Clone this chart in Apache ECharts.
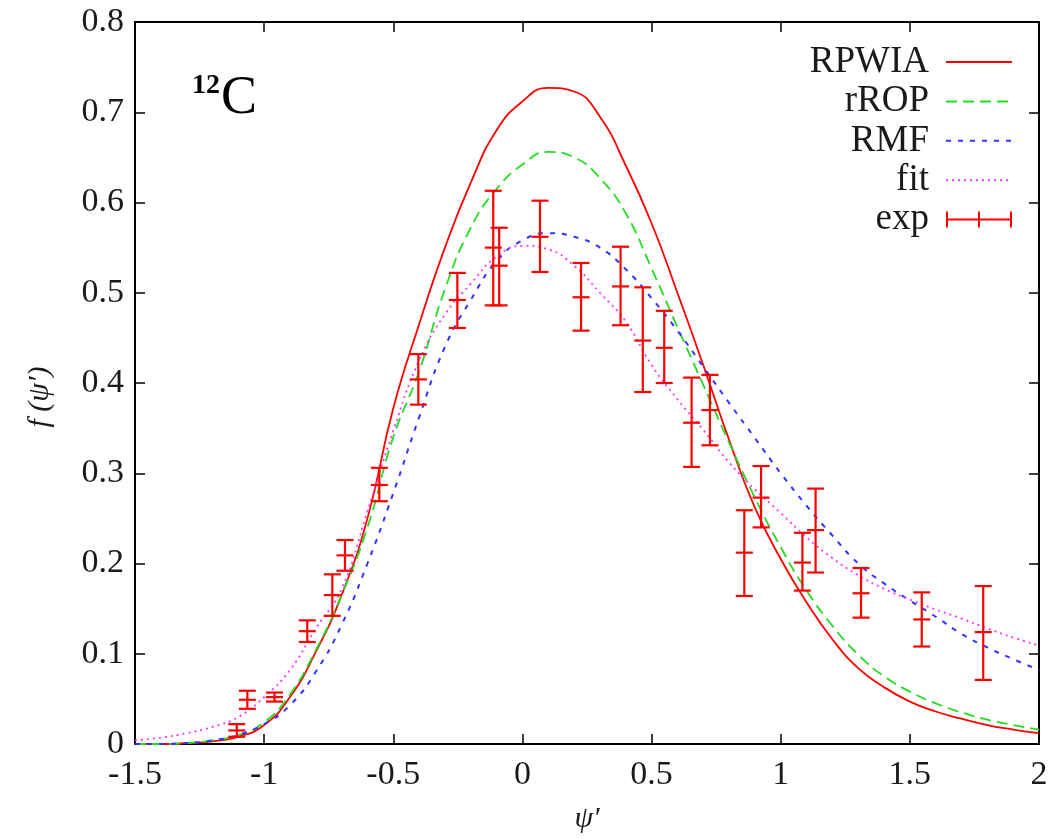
<!DOCTYPE html>
<html>
<head>
<meta charset="utf-8">
<title>12C scaling function</title>
<script src="https://cdn.jsdelivr.net/npm/echarts@6/dist/echarts.min.js"></script>
<style>
  html, body { margin: 0; padding: 0; background: #fff; }
  #chart { width: 1052px; height: 839px; }
</style>
</head>
<body>
<div id="chart"></div>
<script>
// Abscissa grid shared by the theoretical curves (psi')
const curveX = [-1.5, -1.4, -1.3, -1.2, -1.1, -1.0, -0.9, -0.8, -0.7, -0.6,
                -0.5, -0.4, -0.3, -0.2, -0.1, 0.0, 0.1, 0.2, 0.3, 0.4,
                0.5, 0.6, 0.7, 0.8, 0.9, 1.0, 1.1, 1.2, 1.3, 1.4,
                1.5, 1.6, 1.7, 1.8, 1.9, 2.0];

const rpwia = [0.000, 0.000, 0.001, 0.003, 0.008, 0.021, 0.052, 0.102, 0.165, 0.250,
               0.372, 0.465, 0.550, 0.622, 0.680, 0.712, 0.727, 0.723, 0.695, 0.641,
               0.577, 0.500, 0.420, 0.337, 0.262, 0.205, 0.157, 0.116, 0.084, 0.063,
               0.047, 0.036, 0.028, 0.021, 0.016, 0.012];

const rrop = [0.000, 0.000, 0.001, 0.004, 0.010, 0.024, 0.055, 0.104, 0.165, 0.240,
              0.340, 0.413, 0.504, 0.572, 0.615, 0.642, 0.656, 0.650, 0.627, 0.588,
              0.527, 0.462, 0.398, 0.334, 0.273, 0.218, 0.170, 0.131, 0.099, 0.075,
              0.058, 0.045, 0.035, 0.027, 0.021, 0.016];

const rmf = [0.000, 0.000, 0.001, 0.004, 0.010, 0.022, 0.043, 0.080, 0.132, 0.200,
             0.278, 0.362, 0.440, 0.492, 0.535, 0.558, 0.566, 0.562, 0.550, 0.526,
             0.494, 0.458, 0.418, 0.378, 0.339, 0.300, 0.264, 0.231, 0.200, 0.178,
             0.159, 0.141, 0.122, 0.107, 0.094, 0.082];

const fit = [0.004, 0.007, 0.012, 0.019, 0.030, 0.052, 0.082, 0.128, 0.172, 0.258,
             0.347, 0.425, 0.476, 0.510, 0.540, 0.552, 0.548, 0.530, 0.500, 0.468,
             0.420, 0.382, 0.348, 0.312, 0.282, 0.256, 0.229, 0.206, 0.187, 0.172,
             0.160, 0.149, 0.139, 0.128, 0.118, 0.109];

// Experimental points: psi', f, lower and upper end of the error bar
const expX    = [-1.106, -1.065, -0.960, -0.833, -0.736, -0.687, -0.554, -0.403, -0.252, -0.113,
                 -0.090, 0.068, 0.227, 0.380, 0.466, 0.549, 0.655, 0.726, 0.859, 0.924,
                 1.084, 1.135, 1.311, 1.546, 1.784];
const expY    = [0.015, 0.049, 0.052, 0.125, 0.165, 0.209, 0.287, 0.404, 0.492, 0.550,
                 0.530, 0.562, 0.495, 0.507, 0.447, 0.439, 0.356, 0.370, 0.212, 0.273,
                 0.201, 0.237, 0.167, 0.138, 0.124];
const expLow  = [0.008, 0.039, 0.047, 0.113, 0.142, 0.192, 0.269, 0.376, 0.461, 0.486,
                 0.486, 0.523, 0.458, 0.464, 0.390, 0.400, 0.307, 0.331, 0.164, 0.240,
                 0.170, 0.190, 0.140, 0.108, 0.071];
const expHigh = [0.022, 0.059, 0.057, 0.137, 0.188, 0.226, 0.306, 0.432, 0.522, 0.613,
                 0.572, 0.602, 0.533, 0.551, 0.506, 0.480, 0.406, 0.409, 0.259, 0.308,
                 0.234, 0.283, 0.195, 0.168, 0.175];

const xTicks = { min: -1.5, max: 2, interval: 0.5 };
const yTicks = { min: 0, max: 0.8, interval: 0.1 };

const SERIF = '"Liberation Serif", "DejaVu Serif", serif';
const TEXT = '#1a1a1a';

function pairs(ys) {
  return curveX.map((x, i) => [x, ys[i]]);
}

const expData = expX.map((x, i) => [x, expY[i], expLow[i], expHigh[i]]);

// Vertical error bar with end caps and a tick at the measured value
function renderErrorBar(params, api) {
  const x = api.value(0);
  const mid = api.coord([x, api.value(1)]);
  const lo = api.coord([x, api.value(2)]);
  const hi = api.coord([x, api.value(3)]);
  const hw = 8.5;
  const style = { stroke: '#ff0000', lineWidth: 2.2, fill: null };
  const seg = (x1, y1, x2, y2) => ({ type: 'line', shape: { x1, y1, x2, y2 }, style });
  return {
    type: 'group',
    children: [
      seg(hi[0], hi[1], lo[0], lo[1]),
      seg(hi[0] - hw, hi[1], hi[0] + hw, hi[1]),
      seg(lo[0] - hw, lo[1], lo[0] + hw, lo[1]),
      seg(mid[0] - hw, mid[1], mid[0] + hw, mid[1])
    ]
  };
}

const axisLine = { show: true, onZero: false, lineStyle: { color: '#000', width: 2 } };
const tickStyle = { show: true, inside: true, length: 10, lineStyle: { color: '#000', width: 1.5 } };

const chart = echarts.init(document.getElementById('chart'));

chart.setOption({
  animation: false,
  backgroundColor: '#fff',
  grid: { left: 135, right: 13, top: 22, bottom: 77 },
  legend: {
    orient: 'vertical',
    right: 34,
    top: 38,
    align: 'right',
    itemWidth: 66,
    itemHeight: 16,
    itemGap: 1.4,
    selectedMode: false,
    itemStyle: { opacity: 0 },
    textStyle: { fontFamily: SERIF, fontSize: 37, color: TEXT, lineHeight: 38, padding: [0, 12, 0, 0] },
    data: [
      { name: 'RPWIA' },
      { name: 'rROP' },
      { name: 'RMF' },
      { name: 'fit' },
      {
        name: 'exp',
        icon: 'path://M0,7 h66 v2 h-66 Z M0,0 h2 v16 h-2 Z M32,0 h2 v16 h-2 Z M64,0 h2 v16 h-2 Z',
        itemStyle: { color: '#ff0000', opacity: 1 }
      }
    ]
  },
  xAxis: [
    {
      type: 'value', ...xTicks,
      name: 'ψ′', nameLocation: 'middle', nameGap: 60,
      nameTextStyle: { fontFamily: SERIF, fontStyle: 'italic', fontSize: 30, color: TEXT },
      axisLine, axisTick: tickStyle,
      axisLabel: { fontFamily: SERIF, fontSize: 34, color: TEXT, margin: 14 },
      splitLine: { show: false }
    },
    {
      type: 'value', position: 'top', ...xTicks,
      axisLine, axisTick: tickStyle, axisLabel: { show: false }, splitLine: { show: false }
    }
  ],
  yAxis: [
    {
      type: 'value', ...yTicks,
      name: 'f (ψ′)', nameLocation: 'middle', nameGap: 80,
      nameTextStyle: { fontFamily: SERIF, fontStyle: 'italic', fontSize: 30, color: TEXT, padding: [0, 28, 0, 0] },
      axisLine, axisTick: tickStyle,
      axisLabel: { fontFamily: SERIF, fontSize: 34, color: TEXT, margin: 11 },
      splitLine: { show: false }
    },
    {
      type: 'value', position: 'right', ...yTicks,
      axisLine, axisTick: tickStyle, axisLabel: { show: false }, splitLine: { show: false }
    }
  ],
  graphic: [
    {
      type: 'text', left: 192, top: 72,
      style: {
        text: '{s|12}{c|C}',
        rich: {
          s: { fontFamily: SERIF, fontSize: 28, fontWeight: 'bold', color: TEXT, verticalAlign: 'top', padding: [0, 1, 20, 0] },
          c: { fontFamily: SERIF, fontSize: 54, color: TEXT }
        }
      }
    }
  ],
  series: [
    {
      name: 'RPWIA', type: 'line', data: pairs(rpwia), smooth: 0.5,
      showSymbol: false, symbol: 'none', color: '#ff0000',
      lineStyle: { color: '#ff0000', width: 1.8 }
    },
    {
      name: 'rROP', type: 'line', data: pairs(rrop), smooth: 0.5,
      showSymbol: false, symbol: 'none', color: '#22dd22',
      lineStyle: { color: '#22dd22', width: 1.8, type: [11, 6] }
    },
    {
      name: 'RMF', type: 'line', data: pairs(rmf), smooth: 0.5,
      showSymbol: false, symbol: 'none', color: '#3333ff',
      lineStyle: { color: '#3333ff', width: 2, type: [5, 7] }
    },
    {
      name: 'fit', type: 'line', data: pairs(fit), smooth: 0.5,
      showSymbol: false, symbol: 'none', color: '#ff33ff',
      lineStyle: { color: '#ff33ff', width: 1.8, type: [2, 4] }
    },
    {
      name: 'exp', type: 'custom', data: expData, color: '#ff0000',
      encode: { x: 0, y: [1, 2, 3] },
      renderItem: renderErrorBar,
      z: 5
    }
  ]
});
</script>
</body>
</html>
